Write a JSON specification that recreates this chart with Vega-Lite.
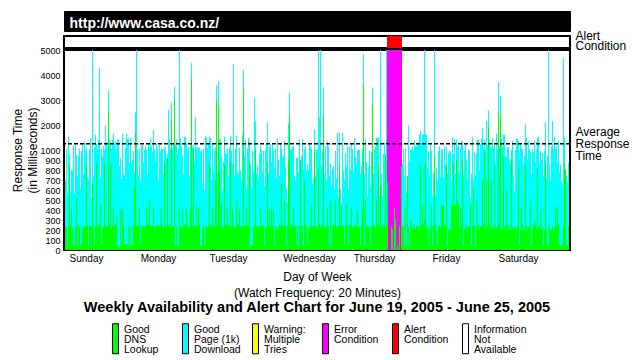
{
"$schema":"https://vega.github.io/schema/vega-lite/v6.json",
"background":"white",
"padding":{"left":10,"top":10,"right":0,"bottom":0},
"config":{"font":"Liberation Sans","view":{"stroke":null},"style":{"guide-label":{"lineHeight":10}},"axis":{"labelColor":"black","titleColor":"black"},"legend":{"labelColor":"black"}},
"title":{"text":"http://www.casa.co.nz/","anchor":"start","frame":"group","orient":"top","offset":-31,"baseline":"alphabetic","color":"white","fontSize":14,"fontWeight":"bold","dx":5.5},
"datasets":{"d":[
{"t":0,"c":690,"g":240},{"t":1,"c":1060,"g":220},{"t":2,"c":570,"g":30},{"t":3,"c":1540,"g":240},{"t":4,"c":960,"g":855},{"t":5,"c":580,"g":240},{"t":6,"c":800,"g":400},{"t":7,"c":790,"g":220},
{"t":8,"c":1180,"g":60},{"t":9,"c":560,"g":40},{"t":10,"c":1200,"g":240},{"t":11,"c":950,"g":520},{"t":12,"c":740,"g":40},{"t":13,"c":940,"g":255},{"t":14,"c":1060,"g":230},{"t":15,"c":610,"g":40},
{"t":16,"c":990,"g":60},{"t":17,"c":1250,"g":240},{"t":18,"c":760,"g":220},{"t":19,"c":1330,"g":240},{"t":20,"c":990,"g":240},{"t":21,"c":1090,"g":855},{"t":22,"c":730,"g":240},{"t":23,"c":700,"g":40},
{"t":24,"c":1030,"g":240},{"t":25,"c":1470,"g":240},{"t":26,"c":520,"g":240},{"t":27,"c":5000,"g":655},{"t":28,"c":740,"g":220},{"t":29,"c":1080,"g":60},{"t":30,"c":1600,"g":240},{"t":31,"c":1250,"g":880},
{"t":32,"c":1040,"g":240},{"t":33,"c":1400,"g":255},{"t":34,"c":4290,"g":240},{"t":35,"c":720,"g":455},{"t":36,"c":1030,"g":60},{"t":37,"c":930,"g":240},{"t":38,"c":1160,"g":220},{"t":39,"c":1010,"g":855},
{"t":40,"c":1985,"g":240},{"t":41,"c":1330,"g":240},{"t":42,"c":1120,"g":240},{"t":43,"c":3380,"g":2550},{"t":44,"c":1420,"g":255},{"t":45,"c":1310,"g":855},{"t":46,"c":1060,"g":220},{"t":47,"c":1420,"g":240},
{"t":48,"c":1650,"g":410},{"t":49,"c":1200,"g":240},{"t":50,"c":1340,"g":255},{"t":51,"c":1010,"g":330},{"t":52,"c":1420,"g":40},{"t":53,"c":1430,"g":40},{"t":54,"c":840,"g":30},{"t":55,"c":920,"g":410},
{"t":56,"c":710,"g":40},{"t":57,"c":1660,"g":410},{"t":58,"c":760,"g":240},{"t":59,"c":740,"g":60},{"t":60,"c":1100,"g":60},{"t":61,"c":1650,"g":60},{"t":62,"c":1460,"g":60},{"t":63,"c":1470,"g":240},
{"t":64,"c":880,"g":40},{"t":65,"c":1500,"g":240},{"t":66,"c":860,"g":40},{"t":67,"c":900,"g":60},{"t":68,"c":990,"g":240},{"t":69,"c":780,"g":620},{"t":70,"c":2500,"g":1650},{"t":71,"c":5000,"g":240},
{"t":72,"c":1020,"g":240},{"t":73,"c":740,"g":220},{"t":74,"c":1060,"g":430},{"t":75,"c":690,"g":60},{"t":76,"c":1170,"g":240},{"t":77,"c":1210,"g":240},{"t":78,"c":880,"g":240},{"t":79,"c":1000,"g":220},
{"t":80,"c":1180,"g":240},{"t":81,"c":1010,"g":410},{"t":82,"c":760,"g":240},{"t":83,"c":1240,"g":255},{"t":84,"c":1100,"g":500},{"t":85,"c":1460,"g":240},{"t":86,"c":1150,"g":240},{"t":87,"c":980,"g":240},
{"t":88,"c":1800,"g":410},{"t":89,"c":1020,"g":240},{"t":90,"c":880,"g":220},{"t":91,"c":1250,"g":240},{"t":92,"c":1040,"g":255},{"t":93,"c":700,"g":240},{"t":94,"c":1200,"g":240},{"t":95,"c":990,"g":240},
{"t":96,"c":1070,"g":430},{"t":97,"c":1040,"g":240},{"t":98,"c":760,"g":220},{"t":99,"c":1050,"g":870},{"t":100,"c":1150,"g":240},{"t":101,"c":920,"g":240},{"t":102,"c":960,"g":920},{"t":103,"c":2600,"g":240},
{"t":104,"c":1440,"g":255},{"t":105,"c":1030,"g":220},{"t":106,"c":2900,"g":2220},{"t":107,"c":1050,"g":240},{"t":108,"c":1250,"g":240},{"t":109,"c":3520,"g":2990},{"t":110,"c":1220,"g":40},{"t":111,"c":1420,"g":240},
{"t":112,"c":960,"g":40},{"t":113,"c":1050,"g":40},{"t":114,"c":5000,"g":410},{"t":115,"c":1460,"g":240},{"t":116,"c":1140,"g":220},{"t":117,"c":950,"g":410},{"t":118,"c":760,"g":240},{"t":119,"c":1510,"g":255},
{"t":120,"c":1540,"g":240},{"t":121,"c":1260,"g":410},{"t":122,"c":1030,"g":240},{"t":123,"c":1100,"g":220},{"t":124,"c":740,"g":240},{"t":125,"c":1170,"g":410},{"t":126,"c":4490,"g":3850},{"t":127,"c":1110,"g":240},
{"t":128,"c":1200,"g":1020},{"t":129,"c":880,"g":240},{"t":130,"c":2320,"g":240},{"t":131,"c":1090,"g":440},{"t":132,"c":1120,"g":240},{"t":133,"c":1050,"g":410},{"t":134,"c":1100,"g":255},{"t":135,"c":980,"g":40},
{"t":136,"c":1000,"g":40},{"t":137,"c":660,"g":205},{"t":138,"c":1050,"g":240},{"t":139,"c":600,"g":40},{"t":140,"c":1550,"g":240},{"t":141,"c":1500,"g":240},{"t":142,"c":1070,"g":220},{"t":143,"c":1240,"g":240},
{"t":144,"c":1530,"g":845},{"t":145,"c":1480,"g":240},{"t":146,"c":700,"g":255},{"t":147,"c":1290,"g":420},{"t":148,"c":800,"g":240},{"t":149,"c":1000,"g":220},{"t":150,"c":1100,"g":695},{"t":151,"c":3590,"g":2960},
{"t":152,"c":760,"g":240},{"t":153,"c":3750,"g":2780},{"t":154,"c":1420,"g":785},{"t":155,"c":1420,"g":240},{"t":156,"c":940,"g":470},{"t":157,"c":595,"g":240},{"t":158,"c":880,"g":220},{"t":159,"c":1530,"g":855},
{"t":160,"c":965,"g":240},{"t":161,"c":960,"g":255},{"t":162,"c":1070,"g":410},{"t":163,"c":740,"g":240},{"t":164,"c":1100,"g":240},{"t":165,"c":1580,"g":880},{"t":166,"c":990,"g":240},{"t":167,"c":860,"g":410},
{"t":168,"c":4440,"g":240},{"t":169,"c":740,"g":240},{"t":170,"c":1040,"g":220},{"t":171,"c":1580,"g":490},{"t":172,"c":780,"g":240},{"t":173,"c":760,"g":255},{"t":174,"c":1080,"g":410},{"t":175,"c":800,"g":240},
{"t":176,"c":690,"g":220},{"t":177,"c":1610,"g":240},{"t":178,"c":4200,"g":3460},{"t":179,"c":940,"g":240},{"t":180,"c":1400,"g":240},{"t":181,"c":620,"g":410},{"t":182,"c":1060,"g":255},{"t":183,"c":1490,"g":240},
{"t":184,"c":1340,"g":890},{"t":185,"c":860,"g":40},{"t":186,"c":630,"g":40},{"t":187,"c":990,"g":55},{"t":188,"c":790,"g":240},{"t":189,"c":3100,"g":240},{"t":190,"c":2160,"g":1000},{"t":191,"c":760,"g":240},
{"t":192,"c":845,"g":240},{"t":193,"c":710,"g":220},{"t":194,"c":960,"g":240},{"t":195,"c":1150,"g":410},{"t":196,"c":1010,"g":240},{"t":197,"c":780,"g":255},{"t":198,"c":990,"g":240},{"t":199,"c":640,"g":40},
{"t":200,"c":1010,"g":240},{"t":201,"c":1290,"g":220},{"t":202,"c":2090,"g":880},{"t":203,"c":760,"g":240},{"t":204,"c":1150,"g":405},{"t":205,"c":1220,"g":240},{"t":206,"c":880,"g":405},{"t":207,"c":1220,"g":240},
{"t":208,"c":1030,"g":405},{"t":209,"c":820,"g":40},{"t":210,"c":1060,"g":240},{"t":211,"c":720,"g":220},{"t":212,"c":1460,"g":200},{"t":213,"c":905,"g":240},{"t":214,"c":740,"g":255},{"t":215,"c":1290,"g":240},
{"t":216,"c":1060,"g":670},{"t":217,"c":930,"g":240},{"t":218,"c":940,"g":240},{"t":219,"c":1380,"g":490},{"t":220,"c":830,"g":240},{"t":221,"c":620,"g":40},{"t":222,"c":470,"g":240},{"t":223,"c":2060,"g":885},
{"t":224,"c":3300,"g":2360},{"t":225,"c":1020,"g":255},{"t":226,"c":1030,"g":220},{"t":227,"c":1120,"g":240},{"t":228,"c":1150,"g":410},{"t":229,"c":740,"g":240},{"t":230,"c":700,"g":240},{"t":231,"c":920,"g":60},
{"t":232,"c":920,"g":240},{"t":233,"c":780,"g":40},{"t":234,"c":1420,"g":240},{"t":235,"c":900,"g":890},{"t":236,"c":940,"g":240},{"t":237,"c":1450,"g":240},{"t":238,"c":810,"g":40},{"t":239,"c":1020,"g":690},
{"t":240,"c":1150,"g":255},{"t":241,"c":790,"g":240},{"t":242,"c":860,"g":55},{"t":243,"c":800,"g":240},{"t":244,"c":1280,"g":220},{"t":245,"c":1150,"g":240},{"t":246,"c":1060,"g":440},{"t":247,"c":655,"g":240},
{"t":248,"c":720,"g":240},{"t":249,"c":1820,"g":1000},{"t":250,"c":740,"g":240},{"t":251,"c":1030,"g":205},{"t":252,"c":1000,"g":240},{"t":253,"c":5000,"g":810},{"t":254,"c":2290,"g":270},{"t":255,"c":5000,"g":240},
{"t":256,"c":830,"g":220},{"t":257,"c":990,"g":255},{"t":258,"c":3500,"g":2390},{"t":259,"c":760,"g":240},{"t":260,"c":1150,"g":220},{"t":261,"c":700,"g":240},{"t":262,"c":1350,"g":410},{"t":263,"c":1150,"g":240},
{"t":264,"c":740,"g":40},{"t":265,"c":860,"g":490},{"t":266,"c":640,"g":40},{"t":267,"c":805,"g":240},{"t":268,"c":840,"g":255},{"t":269,"c":610,"g":240},{"t":270,"c":990,"g":490},{"t":271,"c":720,"g":220},
{"t":272,"c":1690,"g":240},{"t":273,"c":520,"g":240},{"t":274,"c":1690,"g":840},{"t":275,"c":610,"g":240},{"t":276,"c":470,"g":440},{"t":277,"c":1690,"g":240},{"t":278,"c":790,"g":240},{"t":279,"c":700,"g":40},
{"t":280,"c":970,"g":240},{"t":281,"c":830,"g":465},{"t":282,"c":1150,"g":240},{"t":283,"c":605,"g":60},{"t":284,"c":1130,"g":255},{"t":285,"c":805,"g":240},{"t":286,"c":1290,"g":410},{"t":287,"c":1040,"g":220},
{"t":288,"c":780,"g":240},{"t":289,"c":1490,"g":240},{"t":290,"c":930,"g":255},{"t":291,"c":860,"g":240},{"t":292,"c":1000,"g":395},{"t":293,"c":1000,"g":220},{"t":294,"c":1000,"g":240},{"t":295,"c":760,"g":40},
{"t":296,"c":840,"g":240},{"t":297,"c":1070,"g":410},{"t":298,"c":4840,"g":3630},{"t":299,"c":760,"g":40},{"t":300,"c":1420,"g":490},{"t":301,"c":880,"g":240},{"t":302,"c":540,"g":240},{"t":303,"c":830,"g":220},
{"t":304,"c":1000,"g":240},{"t":305,"c":640,"g":40},{"t":306,"c":980,"g":240},{"t":307,"c":3500,"g":2790},{"t":308,"c":760,"g":255},{"t":309,"c":1030,"g":240},{"t":310,"c":1150,"g":220},{"t":311,"c":1490,"g":495},
{"t":312,"c":1490,"g":240},{"t":313,"c":1490,"g":840},{"t":314,"c":540,"g":240},{"t":315,"c":5000,"g":640},{"t":316,"c":760,"g":220},{"t":317,"c":540,"g":240},{"t":318,"c":960,"g":255},{"t":319,"c":1290,"g":240},
{"t":320,"c":960,"g":940},{"t":321,"c":5000,"g":240},{"t":322,"c":5000,"g":670,"e":1},{"t":323,"c":5000,"g":0,"e":1},{"t":324,"c":5000,"g":0,"e":1},{"t":325,"c":5000,"g":0,"e":1},{"t":326,"c":5000,"g":235,"e":1},{"t":327,"c":5000,"g":215,"e":1},
{"t":328,"c":5000,"g":0,"e":1},{"t":329,"c":5000,"g":420,"e":1},{"t":330,"c":5000,"g":310,"e":1},{"t":331,"c":5000,"g":0,"e":1},{"t":332,"c":5000,"g":45,"e":1},{"t":333,"c":5000,"g":0,"e":1},{"t":334,"c":5000,"g":235,"e":1},{"t":335,"c":5000,"g":0,"e":1},
{"t":336,"c":5000,"g":835,"e":1},{"t":337,"c":860,"g":240},{"t":338,"c":1070,"g":240},{"t":339,"c":740,"g":40},{"t":340,"c":1060,"g":410},{"t":341,"c":570,"g":40},{"t":342,"c":740,"g":740},{"t":343,"c":1980,"g":240},
{"t":344,"c":880,"g":40},{"t":345,"c":1020,"g":305},{"t":346,"c":1020,"g":240},{"t":347,"c":1150,"g":220},{"t":348,"c":1000,"g":205},{"t":349,"c":1390,"g":255},{"t":350,"c":1150,"g":205},{"t":351,"c":1150,"g":240},
{"t":352,"c":1290,"g":240},{"t":353,"c":1290,"g":205},{"t":354,"c":1620,"g":240},{"t":355,"c":1760,"g":840},{"t":356,"c":1290,"g":240},{"t":357,"c":1620,"g":440},{"t":358,"c":1620,"g":255},{"t":359,"c":5000,"g":300},
{"t":360,"c":1620,"g":870},{"t":361,"c":1620,"g":220},{"t":362,"c":820,"g":240},{"t":363,"c":990,"g":205},{"t":364,"c":740,"g":40},{"t":365,"c":1290,"g":240},{"t":366,"c":990,"g":440},{"t":367,"c":545,"g":40},
{"t":368,"c":770,"g":240},{"t":369,"c":5000,"g":940},{"t":370,"c":545,"g":255},{"t":371,"c":820,"g":205},{"t":372,"c":690,"g":40},{"t":373,"c":990,"g":240},{"t":374,"c":1150,"g":240},{"t":375,"c":730,"g":220},
{"t":376,"c":1020,"g":445},{"t":377,"c":1030,"g":445},{"t":378,"c":720,"g":445},{"t":379,"c":1130,"g":240},{"t":380,"c":855,"g":255},{"t":381,"c":1130,"g":845},{"t":382,"c":760,"g":40},{"t":383,"c":970,"g":205},
{"t":384,"c":990,"g":205},{"t":385,"c":990,"g":205},{"t":386,"c":700,"g":450},{"t":387,"c":1510,"g":450},{"t":388,"c":960,"g":870},{"t":389,"c":1440,"g":450},{"t":390,"c":760,"g":450},{"t":391,"c":1420,"g":905},
{"t":392,"c":1130,"g":490},{"t":393,"c":1150,"g":460},{"t":394,"c":780,"g":220},{"t":395,"c":1090,"g":410},{"t":396,"c":1360,"g":240},{"t":397,"c":1360,"g":890},{"t":398,"c":740,"g":40},{"t":399,"c":990,"g":205},
{"t":400,"c":1290,"g":255},{"t":401,"c":905,"g":205},{"t":402,"c":700,"g":240},{"t":403,"c":1020,"g":220},{"t":404,"c":990,"g":240},{"t":405,"c":520,"g":460},{"t":406,"c":760,"g":40},{"t":407,"c":1530,"g":240},
{"t":408,"c":695,"g":630},{"t":409,"c":980,"g":240},{"t":410,"c":740,"g":40},{"t":411,"c":960,"g":490},{"t":412,"c":1420,"g":240},{"t":413,"c":1420,"g":255},{"t":414,"c":800,"g":205},{"t":415,"c":1220,"g":240},
{"t":416,"c":1440,"g":240},{"t":417,"c":1860,"g":705},{"t":418,"c":1120,"g":240},{"t":419,"c":1440,"g":990},{"t":420,"c":1020,"g":220},{"t":421,"c":2160,"g":695},{"t":422,"c":1200,"g":240},{"t":423,"c":2590,"g":1920},
{"t":424,"c":1390,"g":255},{"t":425,"c":1150,"g":205},{"t":426,"c":1060,"g":695},{"t":427,"c":1490,"g":240},{"t":428,"c":1090,"g":205},{"t":429,"c":1220,"g":840},{"t":430,"c":880,"g":240},{"t":431,"c":1660,"g":205},
{"t":432,"c":1020,"g":240},{"t":433,"c":3720,"g":2520},{"t":434,"c":1100,"g":240},{"t":435,"c":3160,"g":2360},{"t":436,"c":1440,"g":205},{"t":437,"c":1130,"g":220},{"t":438,"c":1620,"g":930},{"t":439,"c":1620,"g":240},
{"t":440,"c":930,"g":205},{"t":441,"c":940,"g":605},{"t":442,"c":1100,"g":255},{"t":443,"c":1130,"g":205},{"t":444,"c":910,"g":240},{"t":445,"c":870,"g":205},{"t":446,"c":1000,"g":910},{"t":447,"c":1360,"g":240},
{"t":448,"c":740,"g":205},{"t":449,"c":590,"g":240},{"t":450,"c":1000,"g":220},{"t":451,"c":1460,"g":205},{"t":452,"c":1420,"g":240},{"t":453,"c":1360,"g":830},{"t":454,"c":980,"g":40},{"t":455,"c":1220,"g":205},
{"t":456,"c":1090,"g":420},{"t":457,"c":1020,"g":255},{"t":458,"c":860,"g":205},{"t":459,"c":940,"g":205},{"t":460,"c":2020,"g":855},{"t":461,"c":1490,"g":240},{"t":462,"c":900,"g":205},{"t":463,"c":1360,"g":220},
{"t":464,"c":1020,"g":240},{"t":465,"c":980,"g":490},{"t":466,"c":760,"g":40},{"t":467,"c":1050,"g":205},{"t":468,"c":980,"g":255},{"t":469,"c":1390,"g":290},{"t":470,"c":880,"g":240},{"t":471,"c":1020,"g":205},
{"t":472,"c":1490,"g":810},{"t":473,"c":1530,"g":240},{"t":474,"c":860,"g":220},{"t":475,"c":990,"g":405},{"t":476,"c":905,"g":205},{"t":477,"c":970,"g":240},{"t":478,"c":740,"g":40},{"t":479,"c":990,"g":205},
{"t":480,"c":2120,"g":870},{"t":481,"c":720,"g":205},{"t":482,"c":940,"g":40},{"t":483,"c":5000,"g":55},{"t":484,"c":860,"g":255},{"t":485,"c":695,"g":205},{"t":486,"c":1150,"g":205},{"t":487,"c":2160,"g":240},
{"t":488,"c":1020,"g":205},{"t":489,"c":1530,"g":220},{"t":490,"c":1060,"g":410},{"t":491,"c":1160,"g":240},{"t":492,"c":880,"g":440},{"t":493,"c":1390,"g":255},{"t":494,"c":780,"g":55},{"t":495,"c":855,"g":40},
{"t":496,"c":690,"g":40},{"t":497,"c":655,"g":55},{"t":498,"c":4670,"g":240},{"t":499,"c":1490,"g":870},{"t":500,"c":800,"g":800},{"t":501,"c":740,"g":40},{"t":502,"c":680,"g":55},{"t":503,"c":870,"g":240}
]},
"bounds":"flush",
"spacing":5,
"resolve":{"scale":{"color":"shared"},"legend":{"color":"shared"}},
"vconcat":[
 {"width":506,"height":20,"data":{"values":[]},"mark":"rect",
  "view":{"fill":"black","stroke":"black"}},
 {"bounds":"flush","spacing":2,
  "resolve":{"scale":{"x":"shared","y":"independent","color":"shared"},"axis":{"y":"independent"},"legend":{"color":"shared"}},
  "vconcat":[
   {"width":506,"height":12,"data":{"name":"d"},"transform":[{"filter":"datum.e == 1"}],
    "mark":{"type":"bar","color":"#ff0000"},
    "encoding":{
     "x":{"field":"t","type":"ordinal","scale":{"paddingInner":0,"paddingOuter":1},"axis":null},
     "y":{"datum":1,"type":"quantitative","scale":{"domain":[0,1],"nice":false},
      "axis":{"orient":"right","values":[0.5],"labelExpr":"['Alert','Condition']","ticks":false,"domain":false,"grid":false,"labelFontSize":12,"labelLineHeight":10,"labelBaseline":"middle","labelAlign":"left","labelPadding":5,"labelOffset":-7,"labelFlush":false,"labelOverlap":false,"title":null}},
     "y2":{"datum":0}},
    "view":{"stroke":"black","strokeWidth":2}},
   {"width":506,"height":200,"data":{"name":"d"},
    "view":{"stroke":"black","strokeWidth":2},
    "title":{"text":"Weekly Availability and Alert Chart for June 19, 2005 - June 25, 2005","orient":"bottom","anchor":"middle","fontSize":14.5,"fontWeight":"bold","offset":3,"color":"black"},
    "resolve":{"axis":{"y":"independent"}},
    "layer":[
     {"mark":{"type":"bar"},
      "encoding":{
       "x":{"field":"t","type":"ordinal","scale":{"paddingInner":0,"paddingOuter":1},
        "axis":{"values":[21,93,163,244,309,381,453],"labelExpr":"['Sunday','Monday','Tuesday','Wednesday','Thursday','Friday','Saturday'][floor(datum.value/72)]","ticks":false,"domain":false,"labelAngle":0,"labelFontSize":10,"labelPadding":3,"title":["Day of Week","(Watch Frequency: 20 Minutes)"],"titleFontSize":12,"titleFontWeight":"normal","titleLineHeight":16,"titlePadding":8}},
       "y":{"field":"c","type":"quantitative","scale":{"domain":[0,1000,5000],"range":[200,100,0],"clamp":true,"nice":false,"zero":false},
        "axis":{"orient":"left","values":[0,100,200,300,400,500,600,700,800,900,1000,2000,3000,4000,5000],"format":"d","ticks":false,"domain":false,"grid":false,"labelFontSize":9,"labelPadding":4,"labelOverlap":false,"labelFlush":false,"title":["Response Time","(in Milliseconds)"],"titleFontSize":12,"titleFontWeight":"normal","titleLineHeight":15,"titlePadding":0}},
       "color":{"condition":{"test":"datum.e == 1","value":"#ff00ff"},"value":"#00ffff"}
      }},
     {"mark":{"type":"bar"},
      "encoding":{
       "x":{"field":"t","type":"ordinal"},
       "y":{"field":"g","type":"quantitative","axis":null},
       "color":{"datum":"Good|DNS|Lookup","type":"nominal",
        "scale":{"domain":["Good|DNS|Lookup","Good|Page (1k)|Download","Warning:|Multiple|Tries","Error|Condition","Alert|Condition","Information|Not|Available"],"range":["#00ff00","#00ffff","#ffff00","#ff00ff","#ff0000","#ffffff"]},
        "legend":{"orient":"none","legendX":45,"legendY":312,"direction":"horizontal","columns":6,"title":null,"padding":0,"symbolType":"M-0.5,-1H0.5V4H-0.5Z","symbolSize":144,"symbolStrokeColor":"black","symbolStrokeWidth":1,"symbolOpacity":1,"labelExpr":"split(datum.label,'|')","labelFontSize":10.5,"labelBaseline":"middle","labelOffset":2,"columnPadding":2,"gridAlign":"all","labelLimit":120}}
      }},
     {"data":{"values":[{"avg":1250}]},
      "mark":{"type":"rule","strokeDash":[4,2],"strokeWidth":1.5,"color":"black"},
      "encoding":{"y":{"field":"avg","type":"quantitative",
        "axis":{"orient":"right","values":[1250],"labelExpr":"['Average','Response','Time']","ticks":false,"domain":false,"grid":false,"labelFontSize":12,"labelLineHeight":11.8,"labelBaseline":"middle","labelAlign":"left","labelPadding":5,"labelOffset":-11.8,"labelFlush":false,"labelOverlap":false,"title":null}}}}
    ]}
  ]}
]
}
